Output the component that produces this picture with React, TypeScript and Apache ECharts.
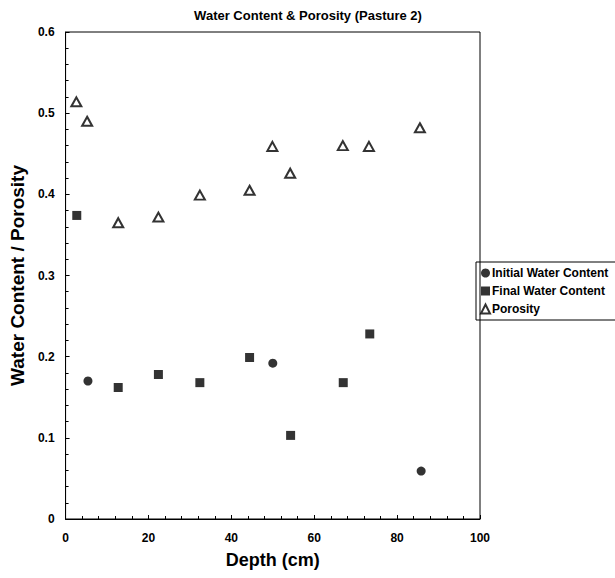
import React, { useEffect, useRef } from "react";
import * as echarts from "echarts";

const titleText = "Water Content & Porosity (Pasture 2)";
const xAxisName = "Depth (cm)";
const yAxisName = "Water Content / Porosity";

const initialDepth = [5.4, 50.0, 85.8];
const initialWater = [0.170, 0.192, 0.059];

const finalDepth = [2.7, 12.7, 22.4, 32.4, 44.4, 54.3, 67.0, 73.4];
const finalWater = [0.374, 0.162, 0.178, 0.168, 0.199, 0.103, 0.168, 0.228];

const porosityDepth = [2.6, 5.2, 12.7, 22.4, 32.4, 44.4, 49.9, 54.2, 66.9, 73.2, 85.5];
const porosity = [0.514, 0.490, 0.365, 0.372, 0.399, 0.405, 0.459, 0.426, 0.460, 0.459, 0.482];

const pair = (xs: number[], ys: number[]) => xs.map((x, i) => [x, ys[i]]);

const FONT = "'Liberation Sans', Arial, sans-serif";

export default function App() {
  const ref = useRef<HTMLDivElement>(null);
  useEffect(() => {
    if (!ref.current) return;
    const chart = echarts.init(ref.current, undefined, { renderer: "svg" });
    const axisLabel = { color: "#000", fontFamily: FONT, fontWeight: "bold" as const, fontSize: 12 };
    chart.setOption({
      animation: false,
      backgroundColor: "#fff",
      grid: {
        left: 65,
        right: 615 - 480,
        top: 32,
        bottom: 578 - 519,
        show: true,
        borderColor: "#000",
        borderWidth: 1,
        containLabel: false,
      },
      graphic: [
        {
          type: "text",
          x: 308,
          y: 15,
          style: {
            text: titleText,
            fill: "#000",
            font: `bold 13px ${FONT}`,
            textAlign: "center",
            textVerticalAlign: "middle",
          },
        },
      ],
      legend: {
        orient: "vertical",
        left: 476,
        top: 262,
        itemWidth: 9,
        itemHeight: 9,
        itemGap: 6,
        padding: [5, 14, 5, 4],
        borderColor: "#000",
        borderWidth: 1,
        textStyle: { color: "#000", fontFamily: FONT, fontSize: 12, fontWeight: "bold", padding: [0, 0, 0, -3] },
        data: [
          { name: "Initial Water Content", icon: "circle" },
          { name: "Final Water Content", icon: "rect" },
          { name: "Porosity", icon: "triangle" },
        ],
      },
      xAxis: {
        type: "value",
        min: 0,
        max: 100,
        interval: 20,
        name: xAxisName,
        nameLocation: "middle",
        nameGap: 32,
        nameTextStyle: { color: "#000", fontFamily: FONT, fontWeight: "bold", fontSize: 18 },
        axisLine: { show: true, lineStyle: { color: "#000", width: 1 } },
        axisTick: { show: true, inside: true, length: 4, lineStyle: { color: "#000" } },
        minorTick: { show: true, splitNumber: 5, length: 3, lineStyle: { color: "#000" } },
        splitLine: { show: false },
        axisLabel: { ...axisLabel, margin: 13 },
      },
      yAxis: {
        type: "value",
        min: 0,
        max: 0.6,
        interval: 0.1,
        name: yAxisName,
        nameLocation: "middle",
        nameGap: 34,
        nameTextStyle: { color: "#000", fontFamily: FONT, fontWeight: "bold", fontSize: 19 },
        axisLine: { show: true, lineStyle: { color: "#000", width: 1 } },
        axisTick: { show: true, inside: true, length: 4, lineStyle: { color: "#000" } },
        minorTick: { show: true, splitNumber: 5, length: 3, lineStyle: { color: "#000" } },
        splitLine: { show: false },
        axisLabel: { ...axisLabel, margin: 11 },
      },
      series: [
        {
          name: "Initial Water Content",
          type: "scatter",
          symbol: "circle",
          symbolSize: 9,
          itemStyle: { color: "#000" },
          data: pair(initialDepth, initialWater),
        },
        {
          name: "Final Water Content",
          type: "scatter",
          symbol: "rect",
          symbolSize: 9,
          itemStyle: { color: "#000" },
          data: pair(finalDepth, finalWater),
        },
        {
          name: "Porosity",
          type: "scatter",
          symbol: "triangle",
          symbolSize: [10, 9],
          itemStyle: { color: "#fff", borderColor: "#000", borderWidth: 2 },
          data: pair(porosityDepth, porosity),
        },
      ],
    });
    return () => chart.dispose();
  }, []);
  return (
    <div
      ref={ref}
      style={{ position: "fixed", left: 0, top: 0, width: 615, height: 578, overflow: "hidden" }}
    />
  );
}
